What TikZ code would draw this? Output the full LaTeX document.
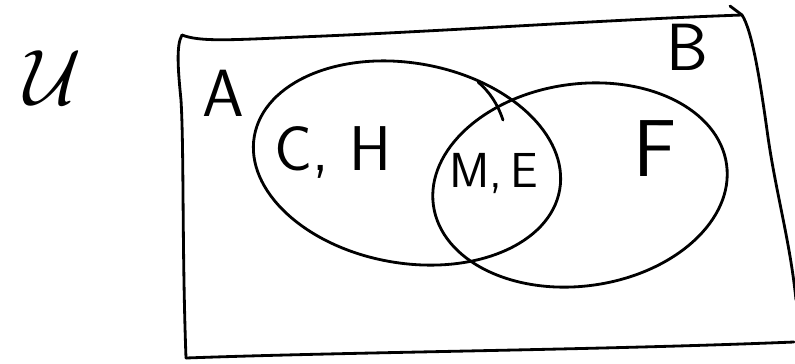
\RequirePackage{fix-cm}
\documentclass[tikz,border=0pt]{standalone}
\usepackage{fontspec}
\tikzset{
  pen/.style={line width=1.6pt, line cap=round, line join=round},
  setname/.style={font=\sffamily\fontsize{38}{42}\selectfont, inner sep=0pt},
  member/.style={font=\sffamily\fontsize{36}{40}\selectfont, inner sep=0pt},
}
\begin{document}
\begin{tikzpicture}[x=0.02cm, y=-0.02cm]
  \useasboundingbox (0,0) rectangle (795,363);
  % universe frame
  \coordinate (tl) at (182,35);
  \coordinate (tr) at (742,15);
  \coordinate (br) at (794,342);
  \coordinate (bl) at (186,358);
  \draw[pen] (tl) .. controls (200,42) and (230,40) .. (300,37)
    .. controls (450,31) and (600,20) .. (tr);
  \draw[pen] (730,6) -- (tr) .. controls (752,30) and (760,80) .. (767,130)
    .. controls (775,190) and (790,240) .. (796,300);
  \draw[pen] (br) .. controls (600,350) and (350,352) .. (bl);
  \draw[pen] (bl) .. controls (182,250) and (184,150) .. (181,100)
    .. controls (178,70) and (176,45) .. (tl);
  % sets
  \draw[pen, rotate around={-10:(407,163)}] (407,163) ellipse [x radius=155, y radius=100];
  \draw[pen, rotate around={8:(580,185)}] (580,185) ellipse [x radius=148, y radius=101];
  \draw[pen] (478,82) .. controls (490,92) and (498,105) .. (503,120);
  % labels
  \node[scale=1.8] (univ) at (53,78) {\Huge$\mathcal{U}$};
  \node[setname] (nameA) at (223,93) {A};
  \node[setname] (nameB) at (687,47) {B};
  \node[member] (onlyA) at (333,152) {C, H};
  \node[member, font=\sffamily\fontsize{28}{32}\selectfont] (both) at (494,173) {M,\,E};
  \node[member, font=\sffamily\fontsize{46}{50}\selectfont] (onlyB) at (655,149) {F};
\end{tikzpicture}
\end{document}
